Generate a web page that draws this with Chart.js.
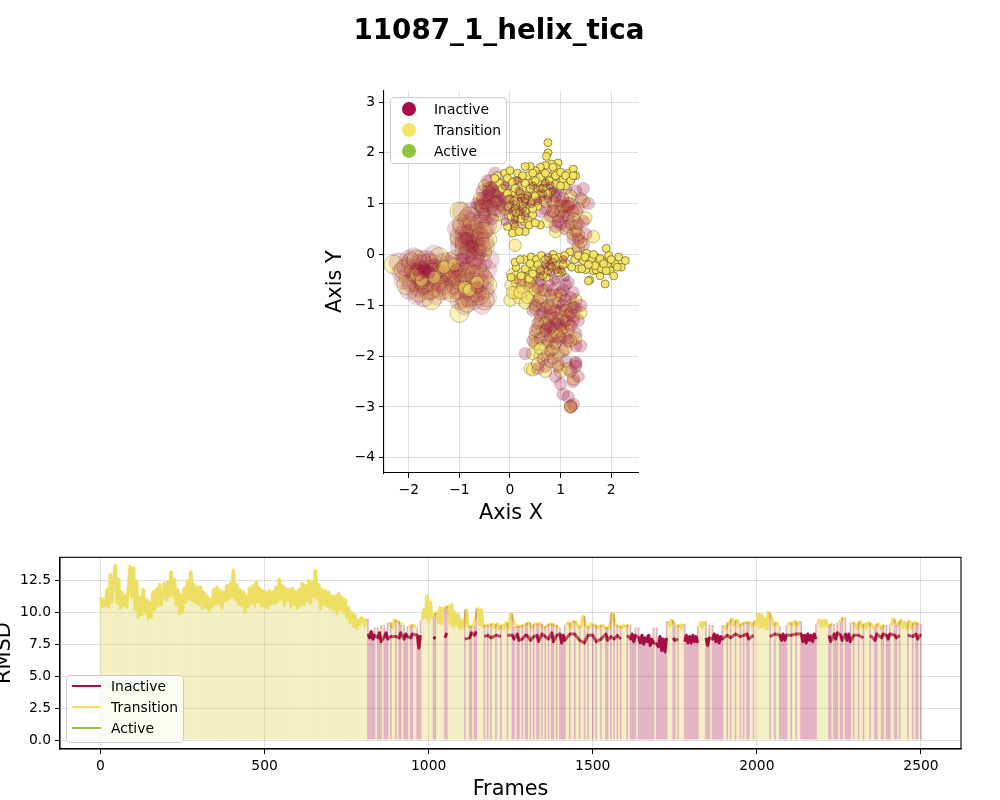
<!DOCTYPE html>
<html>
<head>
<meta charset="utf-8">
<title>11087_1_helix_tica</title>
<script src="https://cdn.jsdelivr.net/npm/chart.js@4/dist/chart.umd.min.js"></script>
<style>
    html, body { margin: 0; padding: 0; background: #fff; overflow: hidden; width: 1000px; height: 800px; }
    canvas { position: absolute; }
    #title { position: absolute; left: 0; top: 13px; width: 998px; text-align: center; font: bold 27.78px "DejaVu Sans", sans-serif; color: #000; will-change: transform; }
    .legend { position: absolute; box-sizing: border-box; background: rgba(255,255,255,0.8); border: 1px solid #ccc; border-radius: 4px; font: 13.89px "DejaVu Sans", sans-serif; color: #000; will-change: transform; }
    .legend div { position: absolute; white-space: nowrap; }
</style>
</head>
<body>
<div id="title">11087_1_helix_tica</div>
<canvas id="tica" width="340" height="452" style="left:320px;top:78px"></canvas>
<canvas id="rmsd" width="1010" height="258" style="left:-10px;top:545px"></canvas>
<div id="ticaLegend" class="legend" style="left:390px;top:97px;width:117px;height:67px"></div>
<div id="rmsdLegend" class="legend" style="left:66px;top:675px;width:118px;height:68px"></div>
<script>
const stateNames = ['Inactive', 'Transition', 'Active'];
const stateCodes = ['I', 'T', 'A'];
const stateColors = ['#A50F45', '#F5E463', '#8CC63F'];

const ticaXTicks = [-2, -1, 0, 1, 2];
const ticaYTicks = [-4, -3, -2, -1, 0, 1, 2, 3];
const framesTicks = [0, 500, 1000, 1500, 2000, 2500];
const rmsdTicks = [0, 2.5, 5, 7.5, 10, 12.5];

// tica points, [x, y]
const inactiveLarge = [
    [-2.2,-0.15],[-2.1,-0.5],[-2,-0.1],[-2,-0.7],[-1.9,-0.35],[-1.85,-0.8],[-1.8,-0.2],[-1.75,-0.5],[-1.7,-0.85],[-1.65,-0.1],
    [-1.6,-0.45],[-1.55,-0.7],[-1.5,0],[-1.45,-0.3],[-1.4,-0.55],[-1.3,-0.15],[-1.25,-0.7],[-1.2,-0.35],[-1.1,-0.1],[-1.1,-0.6],
    [-1,-0.9],[-0.95,-0.4],[-0.9,-1],[-0.85,-0.7],[-0.75,-0.2],[-0.7,-0.9],[-0.6,-0.55],[-0.55,-1],[-0.5,-0.7],[-0.45,-0.3],
    [-1.05,0.5],[-1,0.15],[-0.95,0.85],[-0.9,0.4],[-0.8,0.1],[-0.75,0.65],[-0.7,0.3],[-0.6,0.9],[-0.55,0.15],[-0.5,0.5],
    [-0.45,0.8],[-0.4,-0.1],[-0.35,1.4],[-0.3,0.95],[-1.75,-0.3],[-1.7,-0.4],[-0.85,0.25],[-0.65,0.05],
    [-2.15,-0.35],[-2.05,-0.25],[-1.95,-0.55],[-1.9,-0.05],[-1.85,-0.4],[-1.8,-0.65],[-1.75,-0.1],[-1.7,-0.6],[-1.65,-0.4],[-1.6,-0.15],
    [-1.55,-0.55],[-1.5,-0.35],[-1.45,-0.8],[-1.35,-0.4],[-1.3,-0.6],[-1.2,-0.2],[-1.15,-0.45],[-1.05,-0.3],[-1,-0.7],[-0.95,-0.15],
    [-0.9,-0.55],[-0.85,-0.3],[-0.8,-0.85],[-0.75,-0.5],[-0.7,-0.1],[-0.65,-0.75],[-0.6,-0.35],[-0.55,-0.15],[-0.5,-0.5],[-0.45,-0.85],
    [-1,0.3],[-0.95,0.55],[-0.9,0.2],[-0.85,0.7],[-0.8,0.4],[-0.7,0.5],[-0.65,0.15],[-0.6,0.35],[-0.55,0.7],[-0.5,0.25],
    [-0.45,0.55],[-0.75,0.85],[-0.85,0],[-0.7,-0.05]
];
const transitionLarge = [
    [-2.3,-0.2],[-2,-0.45],[-1.95,-0.15],[-1.85,-0.55],[-1.8,-0.75],[-1.7,-0.2],[-1.65,-0.6],[-1.55,-0.9],[-1.5,-0.2],[-1.45,-0.65],
    [-1.3,-0.45],[-1.2,-0.15],[-1.15,-0.5],[-1.05,-0.7],[-1,-1.15],[-0.95,-0.25],[-0.9,-0.85],[-0.8,-0.55],[-0.7,-0.65],[-0.65,-0.25],
    [-0.5,-0.9],[-0.45,-0.6],[-1,0.85],[-1,0.35],[-0.9,0.1],[-0.85,0.5],[-0.8,0.75],[-0.75,0.2],[-0.65,0.4],[-0.6,0.6],
    [-0.55,0.05],[-0.45,0.3],[-0.5,0.95],[-0.35,0.6],[-0.25,0.85],[-1.6,-0.3],[-1.4,-0.05],[-0.95,-0.55],
    [-2.1,-0.3],[-2.05,-0.6],[-1.9,-0.3],[-1.85,-0.1],[-1.75,-0.4],[-1.7,-0.55],[-1.6,-0.7],[-1.55,-0.35],[-1.4,-0.4],[-1.35,-0.7],
    [-1.25,-0.3],[-1.15,-0.75],[-1.1,-0.35],[-1,-0.5],[-0.9,-0.35],[-0.85,-0.95],[-0.75,-0.75],[-0.7,-0.4],[-0.6,-0.8],[-0.55,-0.45],
    [-0.95,0.6],[-0.9,0.25],[-0.8,0.3],[-0.75,0.55],[-0.7,0.1],[-0.6,0.25],[-0.55,0.45],[-0.5,0.15]
];
const inactiveMid = [
    [-0.65,1],[-0.55,1.25],[-0.5,0.8],[-0.45,1.45],[-0.42,1.1],[-0.38,1.3],[-0.35,0.7],[-0.3,1.05],[-0.3,1.6],[-0.25,1.25],
    [-0.2,0.85],[-0.15,1.15],[-0.12,1.4],[-0.05,1],[0,0.75],[0.05,1.2],[0.15,1],[0.3,1.1],[0.45,1.2],[0.2,0.55],
    [0.75,1.2],[0.8,0.75],[0.85,1],[0.9,0.55],[0.95,1.3],[1,0.85],[1.05,1.1],[1.1,0.5],[1.15,0.75],[1.2,1],
    [1.25,0.3],[1.3,1.25],[1.3,0.05],[1.35,0.6],[1.4,1.1],[1.4,-0.05],[1.45,0.2],[1.5,0.4],[0.7,0.9],[1,0.6],
    [1.45,1.3],[1.55,1],[1.1,1.3],[0.6,0.85],[0.3,-1.95],[0.45,-1.7],[0.5,-1],[0.55,-1.35],[0.6,-1.2],[0.65,-0.7],
    [0.7,-2.2],[0.7,-1.5],[0.75,-1],[0.8,-0.8],[0.8,-1.9],[0.85,-1.6],[0.85,-1.25],[0.9,-2.4],[0.9,-0.5],[0.95,-0.95],
    [1,-1.1],[1,-1.4],[1,-2.55],[1.05,-1.9],[1.05,-0.7],[1.1,-1.65],[1.1,-2.1],[1.15,-2.8],[1.15,-1.2],[1.2,-3],
    [1.2,-1.4],[1.2,-0.85],[1.25,-2.5],[1.25,-1.05],[1.3,-2.2],[1.3,-1.55],[1.35,-2.4],[1.35,-1.3],[1.4,-1.8],[1.4,-1],
    [1.3,-2.15],[1.3,-2.12],[0.75,-1.4],[0.72,-1.45],[0.6,-0.5],[1.1,-0.6],[0.7,-0.35],[0.2,-0.5],[0.9,-1.75],[0.95,-1.35],
    [1.05,-2.75],[1.25,-2.95],[1.2,-2.3],[0.85,-2.05],[0.55,-2.25],[-1.7,-0.3],[-1.68,-0.35],[-0.42,1.25],[-0.45,1.15],
    [0.45,-1.1],[0.5,-1.5],[0.55,-0.9],[0.6,-1.65],[0.65,-1.15],[0.65,-2.05],[0.7,-1.05],[0.75,-1.7],[0.75,-0.6],[0.8,-1.2],
    [0.8,-1.45],[0.85,-0.7],[0.9,-1.1],[0.9,-1.35],[0.95,-2.2],[1,-0.75],[1,-1.65],[1.05,-1],[1.05,-1.45],[1.1,-0.9],
    [1.1,-1.3],[1.15,-1.7],[1.15,-0.55],[1.2,-1.15],[1.25,-1.3],[1.25,-0.75],[1.3,-1.05],[1.3,-1.8],[0.4,-0.55],[0.55,-0.65],
    [-0.6,0.95],[-0.55,1.1],[-0.5,1],[-0.45,0.95],[-0.4,1.2],[-0.35,0.95],[-0.3,1.35],[-0.25,1.05],[-0.2,1.2],[-0.15,0.95],
    [-0.1,1.1],[0,0.95],[0.1,1.1],[0.2,1.2],[0.35,0.95],[0.5,1.05],[0.6,1.15],[0.85,0.85],[0.9,1.15],[0.95,0.65],
    [1,1.05],[1.05,0.75],[1.1,0.95],[1.15,0.95],[1.2,0.6],[1.25,0.85],[1.3,0.45],[1.35,0.9],[1.45,0.65],[1.35,0.3],
    [-1.8,-0.4],[-1.72,-0.25],[-1.6,-0.35],[-1.5,-0.2],[-1.85,-0.3],[-1.05,-0.3],[-0.95,-0.1],[-0.85,0.3],[-0.75,0.15],[-0.65,-0.65]
];
const transitionMid = [
    [0,-0.9],[0.02,-0.6],[0.05,-0.4],[0.1,-0.75],[0.15,-0.55],[0.18,-0.85],[0.2,-0.4],[0.25,-0.65],[0.3,-0.95],[0.32,-0.5],
    [0.38,-0.7],[0.45,-0.85],[0.42,-0.45],[0.5,-1.05],[0.55,-0.75],[0.6,-1.3],[0.65,-1],[0.75,-1.25],[0.85,-0.9],[0.9,-1.5],
    [1,-0.8],[1.05,-1.25],[1.15,-1.5],[1.2,-1],[1.3,-0.9],[1.4,-1.15],[0.5,-1.6],[0.45,-1.95],[0.55,-1.75],[0.6,-2],
    [0.7,-1.8],[0.8,-2.1],[0.85,-1.7],[0.95,-1.95],[1.05,-1.6],[0.4,-2.25],[0.45,-2.27],[0.7,-2.3],[1,-2.3],[1.15,-2.25],
    [1.3,-1.65],[1.25,-2.45],[1.2,-3],[1.2,-2.98],[-0.6,1.1],[-0.5,1.35],[-0.42,1.3],[-0.3,1.15],[-0.2,1],[-0.1,1.25],
    [0.05,1],[0.85,1.05],[0.95,0.75],[1,0.95],[1.1,0.85],[1.15,0.55],[1.2,1.15],[1.3,0.85],[1.25,0.4],[1.35,0.15],
    [1.4,0.25],[0.75,0.65],[0.9,0.45],[1.5,0.72],[1.65,0.35],[0.1,0.18],
    [0.05,-0.75],[0.12,-0.45],[0.2,-0.75],[0.28,-0.5],[0.35,-0.85],[0.42,-0.6],[0.5,-0.7],[0.6,-0.85],[0.7,-0.7],[0.8,-1.05],
    [0.9,-0.8],[0.95,-1.15],[1.1,-1.1],[1.15,-1.35],[1.25,-1.2],[0.65,-1.5],[0.55,-1.45],[0.7,-1.35],[0.8,-1.6],[0.9,-1.25],
    [1,-1.5],[0.5,-1.75],[0.6,-1.85],[0.75,-1.95],[0.85,-1.85],[0.95,-1.6],[1.1,-1.85],[1.2,-1.7],[0.55,-2.15],[0.95,-2.15],
    [-0.55,0.95],[-0.4,1.05],[-0.35,1.25],[-0.25,1.4],[-0.1,0.9],[0.2,1.05],[0.55,1.1],[0.7,1.05],[0.85,0.85],[1.05,0.95],
    [1.15,1],[1.25,0.7],[1.3,0.55],[1.35,0.4],[1.45,1.05],[-1.85,-0.4],[-1.75,-0.5],[-1.5,-0.45],[-1.3,-0.25],[-1.1,-0.2],
    [-0.9,-0.65],[-0.8,-0.7],[-0.65,-0.55]
];
const inactiveSmall = [
    [-0.1,1.35],[0,1.1],[0.05,0.85],[0.1,0.7],[0.18,1.25],[0.25,0.9],[0.3,1.05],[0.45,1.35],[0.55,1.05],[0.6,1.3],
    [0.7,1.4],[0.75,1.1],[0.8,1.35],[0.9,1.2],[0.7,-0.2],[0.75,-0.05],[0.8,-0.35],[0.85,-0.15],[0.9,-0.5],[0.6,-0.45],
    [1,-0.3],[1.05,-0.1],[1.1,-0.45],[0.15,1.45],[0.3,0.75],[-0.1,0.65],[0.2,0.85],[0.35,1.15],[0.65,1.2],[0.85,1.25],
    [0,0.98],[0.12,1],[0.22,1.12],[0.42,1],[0.08,0.6],[0.62,-0.32],[0.78,-0.22],[0.92,-0.3]
];
const transitionSmall = [
    [0.75,2.2],[0.75,2],[0.72,1.93],[0.95,1.8],[0.92,1.7],[0.88,1.62],[0.82,1.78],[0.7,1.75],[0.65,1.62],[0.6,1.72],
    [0.55,1.55],[0.5,1.65],[0.4,1.73],[0.3,1.73],[0.35,1.55],[0.2,1.5],[0.1,1.45],[-0.1,1.6],[-0.05,1.5],[0,1.65],
    [0.05,1.42],[-0.2,1.4],[-0.25,1.55],[0.75,1.55],[0.85,1.48],[0.95,1.55],[1.05,1.48],[1.15,1.6],[1.25,1.68],[1.3,1.55],
    [1.1,1.35],[0.65,1.42],[0.55,1.3],[0.45,1.42],[0.35,1.22],[0.25,1.3],[0.15,1.18],[0.42,1.05],[0.5,1.15],[0.62,1.22],
    [0.72,1.3],[0.8,1.22],[0.4,0.92],[0.45,0.78],[0.05,1.22],[-0.02,0.95],[0.02,0.75],[0.1,0.92],[0.15,0.72],[0.18,1.02],
    [0.22,0.8],[0.28,0.65],[0.1,0.55],[0.05,0.42],[-0.05,0.55],[0.25,0.95],[0.3,0.45],[0.18,0.45],[0.6,0.58],[0.55,0.95],
    [0.02,-0.45],[0.12,-0.25],[0.22,-0.42],[0.28,-0.1],[0.35,-0.3],[0.42,-0.05],[0.48,-0.25],[0.38,-0.48],[0.52,-0.1],[0.58,-0.38],
    [0.62,-0.02],[0.68,-0.28],[0.72,-0.45],[0.78,-0.12],[0.85,0],[0.92,-0.22],[0.98,-0.05],[1.02,-0.35],[1.12,-0.18],[1.18,0.05],
    [1.28,-0.1],[1.35,-0.28],[1.45,-0.12],[1.5,-0.3],[1.52,0.02],[1.58,-0.5],[1.6,-0.18],[1.65,-0.32],[1.7,-0.05],[1.75,-0.22],
    [1.78,-0.42],[1.82,-0.12],[1.85,-0.3],[1.88,-0.58],[1.92,-0.2],[1.95,-0.02],[1.98,-0.32],[2.05,-0.42],[2.08,-0.18],[2.15,-0.05],
    [2.2,-0.25],[2.28,-0.12],[1.7,-0.3],[1.62,-0.1],[1.9,0.12],[1.55,-0.52],[1.72,-0.18],[1.8,-0.28],[1.35,-0.02],[1.22,-0.25],
    [0.15,1.6],[0.25,1.55],[0.45,1.6],[0.55,1.42],[0.6,1.52],[0.7,1.6],[0.78,1.45],[0.85,1.72],[0.9,1.55],[1,1.62],
    [1.1,1.55],[1.2,1.45],[1.25,1.55],[0.3,1.4],[0.4,1.3],[0.5,1.45],[0.65,1.3],[0.75,1.2],[0.9,1.38],[1,1.35],
    [-0.3,1.5],[-0.15,1.3],[-0.05,1.2],[0.1,1.3],[0.2,1.2],[0.3,1.1],[-0.02,1.08],[0.08,1.05],[0.12,0.82],[0.22,0.7],
    [0.35,0.68],[0.3,0.85],[0.38,0.58],[0.45,0.9],[0.5,0.62],[0.1,-0.15],[0.2,-0.1],[0.3,-0.28],[0.4,-0.18],[0.45,-0.38],
    [0.55,-0.2],[0.6,-0.3],[0.65,-0.42],[0.7,-0.1],[0.75,-0.32],[0.82,-0.25],[0.88,-0.08],[0.95,-0.35],[1.05,-0.2],[1.08,-0.02],
    [1.42,-0.28],[1.48,-0.05],[1.68,-0.22],[1.78,-0.08],[1.9,-0.32],[2,-0.1],[2.12,-0.25],[1.55,-0.2],[1.85,-0.18],[1.65,0]
];

// rmsd sampled every 5 frames, one row per 100 frames
const rmsdValues = [
    11.2,10.4,11.0,10.5,11.8,10.4,13.0,10.8,12.4,13.7,10.7,12.6,10.3,11.6,10.5,11.3,10.4,11.9,13.6,11.2,
    13.5,10.2,12.4,9.6,11.2,9.8,11.8,10.0,11.0,9.5,10.8,9.6,11.6,10.2,11.8,10.5,12.2,10.6,11.4,12.3,
    11.0,12.4,11.2,13.2,11.3,12.6,10.6,11.8,9.9,11.4,10.0,11.9,10.8,12.5,11.0,13.2,10.9,12.2,10.7,12.0,
    10.6,12.0,10.3,11.6,10.4,11.3,10.1,11.0,10.4,11.8,10.6,12.0,10.7,11.7,10.3,11.6,10.9,12.1,11.0,12.3,
    11.2,13.3,11.0,12.2,10.6,11.8,10.5,11.6,10.0,11.3,10.4,11.9,10.7,12.1,10.5,12.4,10.8,11.9,10.5,11.7,
    10.4,11.6,10.3,11.7,10.6,11.6,10.7,12.0,10.8,12.6,11.0,12.1,10.5,11.9,10.9,11.8,10.4,11.9,10.6,11.6,
    10.3,11.8,10.5,12.3,10.6,12.1,10.9,12.5,10.7,12.4,11.2,13.3,11.0,12.2,10.2,11.8,10.6,11.7,10.5,11.6,
    10.3,11.3,10.2,11.3,9.9,11.5,10.2,11.2,10.0,11.0,9.6,10.4,9.2,10.0,8.9,9.8,8.7,9.4,9.0,9.6,
    9.5,8.9,9.5,8.3,8.0,8.5,7.9,8.2,8.8,8.0,8.4,7.7,9.0,8.1,8.4,7.9,9.2,8.1,8.8,9.4,
    8.1,9.3,8.0,8.4,9.0,7.9,8.3,8.1,8.9,8.0,8.3,9.0,8.8,8.2,7.2,8.2,9.4,10.2,9.6,11.3,
    9.2,10.8,9.6,7.9,8.1,10.0,9.2,10.4,9.1,10.3,8.0,8.4,10.5,9.1,10.6,8.9,10.0,9.0,9.8,8.7,
    9.4,8.8,7.9,10.2,8.9,8.0,8.4,8.9,8.2,8.5,10.3,9.0,10.2,8.9,8.1,9.0,8.2,9.0,8.0,9.1,
    8.8,8.2,9.1,8.7,8.1,9.0,8.7,9.2,8.2,8.8,9.9,8.2,7.9,8.9,8.3,7.8,8.9,7.9,9.0,8.2,
    8.2,9.2,7.8,8.8,8.1,9.1,8.2,7.7,9.1,8.3,8.8,8.1,8.9,7.9,9.1,8.4,7.7,9.0,8.2,8.8,
    8.3,7.6,8.2,7.8,9.0,9.2,8.3,8.8,9.3,8.3,9.2,8.9,7.8,8.9,9.7,7.6,8.9,8.2,8.8,9.1,
    8.2,9.0,7.7,8.8,8.9,7.9,9.0,8.8,8.3,7.8,8.8,8.1,9.95,7.9,9.0,8.2,8.9,7.9,8.8,9.0,
    8.9,8.2,9.0,7.9,8.3,7.7,8.2,8.8,8.0,7.6,8.2,7.5,8.0,7.7,8.2,7.4,7.9,7.6,8.8,7.5,
    7.3,8.1,7.0,7.9,6.9,8.0,9.3,8.9,9.4,8.0,7.8,8.9,7.9,9.0,8.7,9.1,7.7,8.2,7.6,8.1,
    7.6,8.2,7.7,8.1,7.6,8.9,9.2,8.8,9.3,8.0,7.4,8.0,9.0,7.9,8.3,7.7,8.2,7.6,8.1,7.9,
    9.0,8.7,8.2,9.2,8.0,9.5,9.0,8.3,9.4,8.9,8.1,9.1,8.2,9.2,8.3,7.9,9.2,8.9,8.2,9.3,
    9.0,9.9,8.8,9.8,8.9,9.5,8.7,10.0,8.1,9.6,9.0,8.3,9.2,8.9,8.2,7.8,8.3,7.8,8.2,9.0,
    9.2,8.2,9.0,9.3,8.3,9.0,9.3,8.3,7.7,8.2,7.6,8.3,7.8,8.2,7.7,8.3,7.9,9.1,9.4,8.9,
    9.4,8.9,9.4,8.9,8.2,7.7,9.1,8.3,7.9,8.4,9.2,8.2,7.8,9.6,8.3,7.8,8.3,7.7,9.2,8.2,
    9.1,8.7,8.2,9.3,8.8,8.0,9.1,8.8,9.2,8.2,9.0,8.8,7.8,8.3,9.1,8.8,8.0,8.3,9.0,8.2,
    7.9,8.3,9.0,9.5,8.2,8.0,9.0,8.2,9.4,8.8,9.2,8.7,8.2,9.3,8.8,8.1,9.2,8.3,7.9,9.1,
    8.3
];
// state of each sample above
const rmsdStates = (
    'TTTTTTTTTTTTTTTTTTTT' + 'TTTTTTTTTTTTTTTTTTTT' + 'TTTTTTTTTTTTTTTTTTTT' + 'TTTTTTTTTTTTTTTTTTTT' +
    'TTTTTTTTTTTTTTTTTTTT' + 'TTTTTTTTTTTTTTTTTTTT' + 'TTTTTTTTTTTTTTTTTTTT' + 'TTTTTTTTTTTTTTTTTTTT' +
    'TTTIIIIITIIITIIITITT' + 'ITIITIIITIITTIIITTTT' + 'TTTIITTTTTIITTTTTTTT' + 'TTITTIITIITTTTITITIT' +
    'TITTITTTITTIITIITITI' + 'ITITITIITITITITIITIT' + 'IIIITTITTITTITTITITT' + 'ITITTITTIITITITITITT' +
    'TITIIIITIIIIIIIIIITI' + 'IIIIIITTTIITITTTIIII' + 'IIIIITTTTIIITIIIIIII' + 'TTITITTITTITITIITTIT' +
    'TTTTTTTTITTITTIIIIIT' + 'TITTITTIIIIIIIIIITTT' + 'TTTTIITIIITIITIIIITI' + 'TTITTITTTITTIITTIITI' +
    'IITTIITITTTTITTITIIT' + 'I'
).split('');
const frameStep = 5;
// a state's line carries on over other-state samples up to this many frames
const lineMaxGap = 16;

const axisFont = { family: '"DejaVu Sans", sans-serif', size: 13.89 };
const titleFont = { family: '"DejaVu Sans", sans-serif', size: 20.83 };
const gridColor = 'rgba(128,128,128,0.25)';

function rgba(hex, alpha) {
    const n = parseInt(hex.slice(1), 16);
    return `rgba(${n >> 16},${(n >> 8) & 255},${n & 255},${alpha})`;
}

function minusLabel(value) {
    return String(value).replace('-', '\u2212');
}

// fixed axis: tick values from a list, box size forced so the plot lands where it should
function makeAxis(ticks, min, max, size, title, titlePad, label) {
    return {
        type: 'linear',
        min: min,
        max: max,
        offset: false,
        afterBuildTicks: function(scale) {
            scale.ticks = ticks.map(v => ({ value: v }));
        },
        afterFit: function(scale) {
            if (scale.isHorizontal()) scale.height = size;
            else scale.width = size;
        },
        border: { color: '#000', width: 1.1 },
        grid: { offset: false, color: gridColor, lineWidth: 1, tickColor: '#000', tickLength: 5, tickWidth: 1 },
        ticks: { color: '#000', font: axisFont, padding: 4, maxRotation: 0, autoSkip: false, callback: label },
        title: { display: true, text: title, color: '#000', font: titleFont, padding: { top: titlePad, bottom: titlePad } }
    };
}

function scatterSet(points, color, alpha, radius, edgeAlpha) {
    return {
        data: points.map(p => ({ x: p[0], y: p[1] })),
        backgroundColor: rgba(color, alpha),
        borderColor: `rgba(60,50,0,${edgeAlpha})`,
        borderWidth: 0.8,
        pointRadius: radius
    };
}

function createTicaChart() {
    const ctx = document.getElementById('tica').getContext('2d');
    new Chart(ctx, {
        type: 'scatter',
        data: {
            // first dataset is painted last
            datasets: [
                scatterSet(inactiveSmall, stateColors[0], 0.3, 4, 0.4),
                scatterSet(transitionSmall, stateColors[1], 0.95, 4, 0.65),
                scatterSet(inactiveMid, stateColors[0], 0.27, 6.2, 0.2),
                scatterSet(transitionMid, stateColors[1], 0.55, 6.2, 0.4),
                scatterSet(inactiveLarge, stateColors[0], 0.17, 9.5, 0.15),
                scatterSet(transitionLarge, stateColors[1], 0.4, 9.5, 0.35)
            ]
        },
        options: {
            responsive: false,
            animation: false,
            devicePixelRatio: 1,
            layout: { padding: { top: 0, right: 22, left: 0, bottom: 0 } },
            scales: {
                x: makeAxis(ticaXTicks, -2.49, 2.53, 57, 'Axis X', 4.2, minusLabel),
                y: makeAxis(ticaYTicks, -4.3, 3.23, 64, 'Axis Y', 3.5, minusLabel)
            },
            plugins: { legend: { display: false }, tooltip: { enabled: false } }
        }
    });
}

// shade height: reaches the neighbouring samples too, so the band has no white gaps
function shadeTop(i) {
    const near = rmsdValues.slice(Math.max(0, i - 1), i + 2);
    return Math.max(...near);
}

function createRmsdChart() {
    const ctx = document.getElementById('rmsd').getContext('2d');
    const datasets = [];

    // state shading, 0 up to the value
    const shadeColors = ['rgba(165,15,69,0.32)', 'rgba(224,216,100,0.4)'];
    stateCodes.slice(0, 2).forEach(function(code, k) {
        datasets.push({
            type: 'bar',
            data: rmsdValues.map((v, i) => ({ x: i * frameStep, y: rmsdStates[i] === code ? shadeTop(i) : null })),
            backgroundColor: shadeColors[k],
            barPercentage: 1,
            categoryPercentage: 1,
            grouped: false,
            inflateAmount: 0
        });
    });

    // one line per state, only that state's samples; spanGaps breaks it over longer gaps
    stateCodes.forEach(function(code, k) {
        datasets.push({
            type: 'line',
            data: rmsdValues
                .map((v, i) => ({ x: i * frameStep, y: v, state: rmsdStates[i] }))
                .filter(p => p.state === code),
            borderColor: stateColors[k],
            borderWidth: 3,
            borderJoinStyle: 'round',
            pointRadius: 0,
            tension: 0,
            spanGaps: lineMaxGap
        });
    });

    new Chart(ctx, {
        data: { datasets: datasets },
        options: {
            responsive: false,
            animation: false,
            devicePixelRatio: 1,
            layout: { padding: { top: 0, right: 39, left: 0, bottom: 0 } },
            scales: {
                x: makeAxis(framesTicks, -123.4, 2622, 54, 'Frames', 1.2, v => String(v)),
                y: makeAxis(rmsdTicks, -0.7, 14.3, 70, 'RMSD', 2.5, v => v.toFixed(1))
            },
            plugins: { legend: { display: false }, tooltip: { enabled: false } }
        },
        plugins: [{
            // top and right spines
            id: 'frame',
            afterDraw: function(chart) {
                const a = chart.chartArea;
                chart.ctx.save();
                chart.ctx.strokeStyle = '#000';
                chart.ctx.lineWidth = 1.1;
                chart.ctx.strokeRect(a.left, a.top, a.right - a.left, a.bottom - a.top);
                chart.ctx.restore();
            }
        }]
    });
}

function buildLegend(id, isLine) {
    const box = document.getElementById(id);
    stateNames.forEach(function(name, k) {
        const cy = (isLine ? 10 : 11) + k * 21;
        const key = document.createElement('div');
        if (isLine) {
            key.style.cssText = `left:5px;top:${cy - 1}px;width:29px;height:2px;background:${stateColors[k]}`;
        } else {
            key.style.cssText = `left:11px;top:${cy - 7}px;width:14px;height:14px;border-radius:50%;background:${stateColors[k]}`;
        }
        box.appendChild(key);
        const text = document.createElement('div');
        text.textContent = name;
        text.style.cssText = `left:${isLine ? 44 : 43}px;top:${cy - 9}px;line-height:18px`;
        box.appendChild(text);
    });
}

createTicaChart();
createRmsdChart();
buildLegend('ticaLegend', false);
buildLegend('rmsdLegend', true);
</script>
</body>
</html>
